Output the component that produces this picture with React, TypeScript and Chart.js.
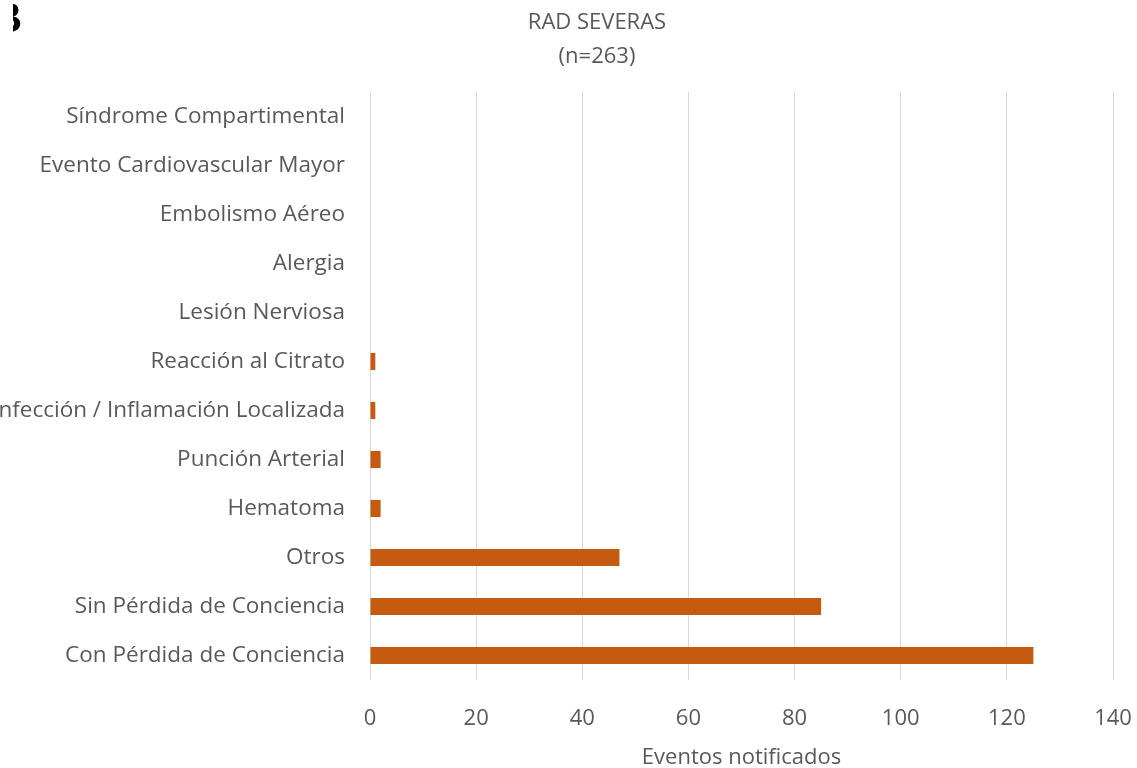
import React, { useEffect, useRef } from "react";
import { Chart, registerables } from "chart.js";

Chart.register(...registerables);

// Reacciones adversas severas por tipo
const categories = [
  "Síndrome Compartimental",
  "Evento Cardiovascular Mayor",
  "Embolismo Aéreo",
  "Alergia",
  "Lesión Nerviosa",
  "Reacción al Citrato",
  "Infección / Inflamación Localizada",
  "Punción Arterial",
  "Hematoma",
  "Otros",
  "Sin Pérdida de Conciencia",
  "Con Pérdida de Conciencia",
];
const eventos = [0, 0, 0, 0, 0, 1, 1, 2, 2, 47, 85, 125];
const titleLines = ["RAD SEVERAS", "(n=263)"];
const axisTitle = "Eventos notificados";
const panelLetter = "B";

const FONT = "'Open Sans', sans-serif";
const GRAY = "#595959";

// Two-line heading centred over the whole figure (labels + plot)
const headingPlugin = {
  id: "heading",
  afterDraw(chart: Chart) {
    const ctx = chart.ctx;
    ctx.save();
    ctx.fillStyle = GRAY;
    ctx.font = `22px ${FONT}`;
    ctx.textAlign = "center";
    ctx.textBaseline = "middle";
    titleLines.forEach((line, i) => ctx.fillText(line, 597, 23 + i * 34));
    ctx.restore();
  },
};

// Panel letter in the top-left corner, only its right edge visible
const panelLetterPlugin = {
  id: "panelLetter",
  afterDraw(chart: Chart) {
    const ctx = chart.ctx;
    ctx.save();
    ctx.beginPath();
    ctx.rect(13, 0, 20, 40);
    ctx.clip();
    ctx.fillStyle = "#000";
    ctx.font = "bold 42px 'Liberation Sans', sans-serif";
    ctx.textAlign = "right";
    ctx.textBaseline = "alphabetic";
    ctx.fillText(panelLetter, 22, 32);
    ctx.restore();
  },
};

export default function App() {
  const canvasRef = useRef<HTMLCanvasElement | null>(null);

  useEffect(() => {
    document.body.style.margin = "0";
    const canvas = canvasRef.current;
    if (!canvas) return;
    const chart = new Chart(canvas, {
      type: "bar",
      data: {
        labels: categories,
        datasets: [
          {
            data: eventos,
            backgroundColor: "#C55A11",
            borderWidth: 0,
            categoryPercentage: 1,
            barPercentage: 0.35,
          },
        ],
      },
      options: {
        indexAxis: "y",
        responsive: false,
        animation: false,
        layout: { padding: { left: 0, right: 24, top: 92, bottom: 0 } },
        plugins: {
          legend: { display: false },
          tooltip: { enabled: false },
          title: { display: false },
        },
        scales: {
          x: {
            min: 0,
            max: 140,
            ticks: {
              stepSize: 20,
              color: GRAY,
              padding: 26,
              font: { family: FONT, size: 22 },
            },
            grid: { color: "#d9d9d9", lineWidth: 1, drawTicks: false },
            border: { display: false },
            title: {
              display: true,
              text: axisTitle,
              color: GRAY,
              font: { family: FONT, size: 22 },
              padding: { top: 10, bottom: -3 },
            },
            afterFit(scale: any) {
              scale.height = 88;
              scale.paddingLeft = 0;
              scale.paddingRight = 0;
            },
          },
          y: {
            ticks: {
              color: GRAY,
              padding: 25,
              autoSkip: false,
              font: { family: FONT, size: 22.5 },
            },
            grid: { display: false, drawTicks: false },
            border: { display: false },
            afterFit(scale: any) {
              scale.width = 370;
              scale.paddingTop = 0;
              scale.paddingBottom = 0;
            },
          },
        },
      },
      plugins: [headingPlugin, panelLetterPlugin],
    });
    return () => chart.destroy();
  }, []);

  return (
    <div style={{ position: "absolute", left: 0, top: 0, width: 1137, height: 768, background: "#fff" }}>
      <canvas ref={canvasRef} width={1137} height={768} />
    </div>
  );
}
